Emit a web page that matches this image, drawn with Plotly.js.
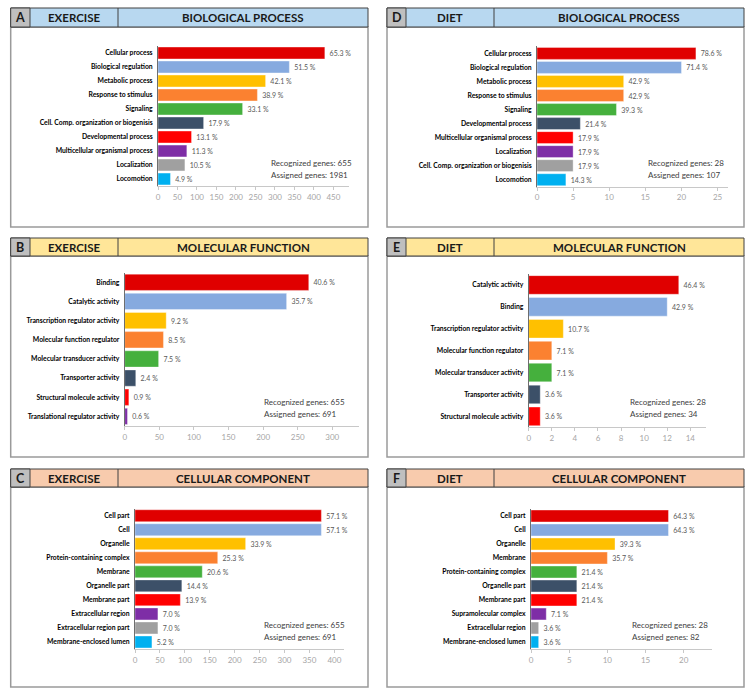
<!DOCTYPE html>
<html>
<head>
<meta charset="utf-8">
<script src="https://cdn.plot.ly/plotly-3.0.1.min.js"></script>
<style>html,body{margin:0;padding:0;background:#fff;}#chart{width:753px;height:697px;}</style>
</head>
<body>
<div id="chart"></div>
<script>
// ---------- DATA ----------
const catA = ["Cellular process","Biological regulation","Metabolic process","Response to stimulus","Signaling","Cell. Comp. organization or biogenisis","Developmental process","Multicellular organismal process","Localization","Locomotion"];
const pctA = [65.3,51.5,42.1,38.9,33.1,17.9,13.1,11.3,10.5,4.9];
const cntA = [428,337,276,255,217,117,86,74,69,32];

const catB = ["Binding","Catalytic activity","Transcription regulator activity","Molecular function regulator","Molecular transducer activity","Transporter activity","Structural molecule activity","Translational regulator activity"];
const pctB = [40.6,35.7,9.2,8.5,7.5,2.4,0.9,0.6];
const cntB = [266,234,60,56,49,16,6,4];

const catC = ["Cell part","Cell","Organelle","Protein-containing complex","Membrane","Organelle part","Membrane part","Extracellular region","Extracellular region part","Membrane-enclosed lumen"];
const pctC = [57.1,57.1,33.9,25.3,20.6,14.4,13.9,7.0,7.0,5.2];
const cntC = [374,374,222,166,135,94,91,46,46,34];

const catD = ["Cellular process","Biological regulation","Metabolic process","Response to stimulus","Signaling","Developmental process","Multicellular organismal process","Localization","Cell. Comp. organization or biogenisis","Locomotion"];
const pctD = [78.6,71.4,42.9,42.9,39.3,21.4,17.9,17.9,17.9,14.3];
const cntD = [22,20,12,12,11,6,5,5,5,4];

const catE = ["Catalytic activity","Binding","Transcription regulator activity","Molecular function regulator","Molecular transducer activity","Transporter activity","Structural molecule activity"];
const pctE = [46.4,42.9,10.7,7.1,7.1,3.6,3.6];
const cntE = [13,12,3,2,2,1,1];

const catF = ["Cell part","Cell","Organelle","Membrane","Protein-containing complex","Organelle part","Membrane part","Supramolecular complex","Extracellular region","Membrane-enclosed lumen"];
const pctF = [64.3,64.3,39.3,35.7,21.4,21.4,21.4,7.1,3.6,3.6];
const cntF = [18,18,11,10,6,6,6,2,1,1];

const letters = ["A","B","C","D","E","F"];
const groups = ["EXERCISE","EXERCISE","EXERCISE","DIET","DIET","DIET"];
const ontologies = ["BIOLOGICAL PROCESS","MOLECULAR FUNCTION","CELLULAR COMPONENT","BIOLOGICAL PROCESS","MOLECULAR FUNCTION","CELLULAR COMPONENT"];
const recognized = [655,655,655,28,28,28];
const assigned = [1981,691,691,107,34,82];

// ---------- STYLE / LAYOUT ----------
const W = 753, H = 697;
const X = p => p / W;
const Y = p => 1 - p / H;
const barColors = ["#e00000","#86aadf","#ffc000","#fb8130","#45b03d","#3c5068","#ff0000","#7e2ea6","#a0a0a0","#00b0f0"];
const headerFills = ["#b8d8f0","#ffe699","#f8cbad","#b8d8f0","#ffe699","#f8cbad"];
const FONT = "Lato, 'Liberation Sans', sans-serif";

const cats = [catA,catB,catC,catD,catE,catF];
const pcts = [pctA,pctB,pctC,pctD,pctE,pctF];
const cnts = [cntA,cntB,cntC,cntD,cntE,cntF];

// geometry per panel (pixels)
const geo = [
  {x0:158, x1:349, y0:46,    y1:186,   xmax:490,  dtick:50, hx0:10.7, hx1:368, hxL:30,  hxM:118, hy0:8,   hy1:27,  by1:227, rx:269, ry:163},
  {x0:124.7,x1:359,y0:272.7, y1:426,   xmax:338.6,dtick:50, hx0:10.7, hx1:368, hxL:30,  hxM:118, hy0:238, hy1:256, by1:457, rx:262, ry:402.3},
  {x0:135, x1:344, y0:508.7, y1:649,   xmax:419.4,dtick:50, hx0:10.7, hx1:368, hxL:30,  hxM:118, hy0:469, hy1:487, by1:687, rx:262, ry:625.3},
  {x0:537, x1:727.7,y0:46.4, y1:186.7, xmax:26.4, dtick:5,  hx0:387, hx1:744, hxL:406, hxM:494, hy0:8,   hy1:27,  by1:227, rx:646, ry:163.3},
  {x0:528.7,x1:706,y0:274,   y1:427.3, xmax:15.36,dtick:2,  hx0:387, hx1:744, hxL:406, hxM:494, hy0:238, hy1:256, by1:457, rx:628.3, ry:402.3},
  {x0:531, x1:712, y0:509,   y1:649,   xmax:23.7, dtick:5,  hx0:387, hx1:744, hxL:406, hxM:494, hy0:469, hy1:487, by1:687, rx:630.3, ry:625.3}
];

const data = [];
const layout = {
  width: W, height: H,
  margin: {l:0,r:0,t:0,b:0},
  paper_bgcolor: "#ffffff",
  plot_bgcolor: "rgba(0,0,0,0)",
  showlegend: false,
  font: {family: FONT, color: "#000"},
  shapes: [], annotations: []
};

for (let i = 0; i < 6; i++) {
  const g = geo[i];
  const sfx = i === 0 ? "" : String(i + 1);
  const n = cats[i].length;
  data.push({
    type: "bar", orientation: "h",
    x: cnts[i], y: cats[i],
    xaxis: "x" + sfx, yaxis: "y" + sfx,
    width: 0.85,
    marker: {color: barColors.slice(0, n), line: {color: "rgba(255,255,255,0.6)", width: 0.6}},
    text: pcts[i].map(v => "\u00a0" + v.toFixed(1) + " %"),
    textposition: "outside",
    constraintext: "none",
    cliponaxis: false,
    textfont: {family: FONT, size: 7, color: "#595959"},
    hoverinfo: "skip"
  });
  layout["xaxis" + sfx] = {
    domain: [X(g.x0), X(g.x1)],
    anchor: "y" + sfx,
    range: [0, g.xmax],
    dtick: g.dtick, tick0: 0,
    showgrid: false, zeroline: false,
    showline: true, linecolor: "#c8c8c8", linewidth: 1,
    ticks: "outside", ticklen: 3, tickcolor: "#c8c8c8",
    tickfont: {family: FONT, size: 8, color: "#a6a6a6"},
    fixedrange: true
  };
  layout["yaxis" + sfx] = {
    domain: [Y(g.y1), Y(g.y0)],
    anchor: "x" + sfx,
    type: "category",
    range: [n - 0.5, -0.5],
    showgrid: false, zeroline: false,
    showline: true, linecolor: "#6e6e6e", linewidth: 1,
    ticks: "", ticklabelstandoff: 3,
    tickfont: {family: FONT, size: 6.8, color: "#000", weight: "bold"},
    fixedrange: true
  };

  // header + body shapes
  layout.shapes.push({type:"rect", xref:"paper", yref:"paper", x0:X(g.hx0), x1:X(g.hx1), y0:Y(g.by1), y1:Y(g.hy1), line:{color:"#9a9a9a", width:1.5}, fillcolor:"rgba(0,0,0,0)", layer:"below"});
  layout.shapes.push({type:"rect", xref:"paper", yref:"paper", x0:X(g.hx0), x1:X(g.hx1), y0:Y(g.hy1), y1:Y(g.hy0), line:{color:"#404040", width:1}, fillcolor:headerFills[i]});
  layout.shapes.push({type:"rect", xref:"paper", yref:"paper", x0:X(g.hx0), x1:X(g.hxL), y0:Y(g.hy1), y1:Y(g.hy0), line:{color:"#404040", width:1}, fillcolor:"#bfbfbf"});
  layout.shapes.push({type:"line", xref:"paper", yref:"paper", x0:X(g.hxM), x1:X(g.hxM), y0:Y(g.hy1), y1:Y(g.hy0), line:{color:"#404040", width:1}});

  const hyc = Y((g.hy0 + g.hy1) / 2);
  const hf = {family: FONT, size: 11.5, color: "#1a1a1a", weight: "bold"};
  layout.annotations.push({xref:"paper", yref:"paper", x:X((g.hx0+g.hxL)/2), y:hyc, text:letters[i], showarrow:false, xanchor:"center", yanchor:"middle", font:{family: FONT, size: 12.5, color: "#1a1a1a", weight: "bold"}});
  layout.annotations.push({xref:"paper", yref:"paper", x:X((g.hxL+g.hxM)/2), y:hyc, text:groups[i], showarrow:false, xanchor:"center", yanchor:"middle", font:hf});
  layout.annotations.push({xref:"paper", yref:"paper", x:X((g.hxM+g.hx1)/2), y:hyc, text:ontologies[i], showarrow:false, xanchor:"center", yanchor:"middle", font:hf});

  const tf = {family: FONT, size: 8, color: "#404040"};
  layout.annotations.push({xref:"paper", yref:"paper", x:X(g.rx), y:Y(g.ry), text:"Recognized genes: " + recognized[i], showarrow:false, xanchor:"left", yanchor:"middle", font:tf});
  layout.annotations.push({xref:"paper", yref:"paper", x:X(g.rx), y:Y(g.ry + 11.5), text:"Assigned genes: " + assigned[i], showarrow:false, xanchor:"left", yanchor:"middle", font:tf});
}

Plotly.newPlot("chart", data, layout, {displayModeBar: false, staticPlot: true});
</script>
</body>
</html>
